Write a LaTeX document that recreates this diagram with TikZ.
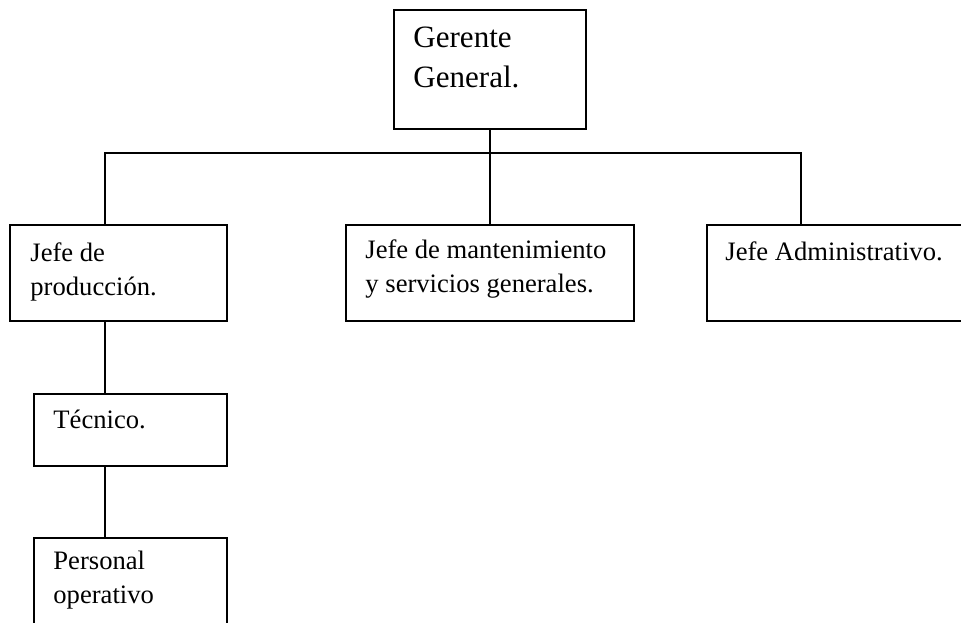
\documentclass[tikz,border=0pt]{standalone}
\usepackage{fontspec}
\setmainfont{Liberation Serif}
\begin{document}
\begin{tikzpicture}[x=0.451pt, y=-0.451pt,
  unitbox/.style={draw=black, line width=0.85pt, rectangle, inner sep=0pt, anchor=north west},
  link/.style={draw=black, line width=0.85pt},
  boxtext/.style={anchor=base west, inner sep=0pt, align=left, font=\fontsize{12pt}{14.9pt}\selectfont},
  toptext/.style={anchor=base west, inner sep=0pt, align=left, font=\fontsize{14pt}{17.6pt}\selectfont}]
\clip (0,0) rectangle (961,622);
\fill[white] (0,0) rectangle (961,622);

% boxes of the chart
\node[unitbox, minimum width=192*0.451pt, minimum height=119*0.451pt] (gg) at (393,9) {};
\node[unitbox, minimum width=217*0.451pt, minimum height=96*0.451pt] (prod) at (9,224) {};
\node[unitbox, minimum width=288*0.451pt, minimum height=96*0.451pt] (mant) at (345,224) {};
\node[unitbox, minimum width=290*0.451pt, minimum height=96*0.451pt] (adm) at (706,224) {};
\node[unitbox, minimum width=193*0.451pt, minimum height=72*0.451pt] (tec) at (33,393) {};
\node[unitbox, minimum width=193*0.451pt, minimum height=120*0.451pt] (pers) at (33,537) {};

% labels (multi-line labels are placed by the baseline of their last line)
\node[toptext] (ggt) at (413,87) {Gerente\\General.};
\node[boxtext] (prodt) at (30,295) {Jefe de\\producción.};
\node[boxtext] (mantt) at (365,292) {Jefe de mantenimiento\\y servicios generales.};
\node[boxtext] (admt) at (725,260) {Jefe Administrativo.};
\node[boxtext] (tect) at (53,428) {Técnico.};
\node[boxtext] (perst) at (53,603) {Personal\\operativo};

% connectors
\coordinate (busL) at (105,153);
\coordinate (busR) at (801,153);
\draw[link] (busL |- prod.north) -- (busL) -- (busR) -- (busR |- adm.north);
\draw[link] (gg.south) -- (gg.south |- mant.north);
\draw[link] (busL |- prod.south) -- (busL |- tec.north);
\draw[link] (busL |- tec.south) -- (busL |- pers.north);
\end{tikzpicture}
\end{document}
